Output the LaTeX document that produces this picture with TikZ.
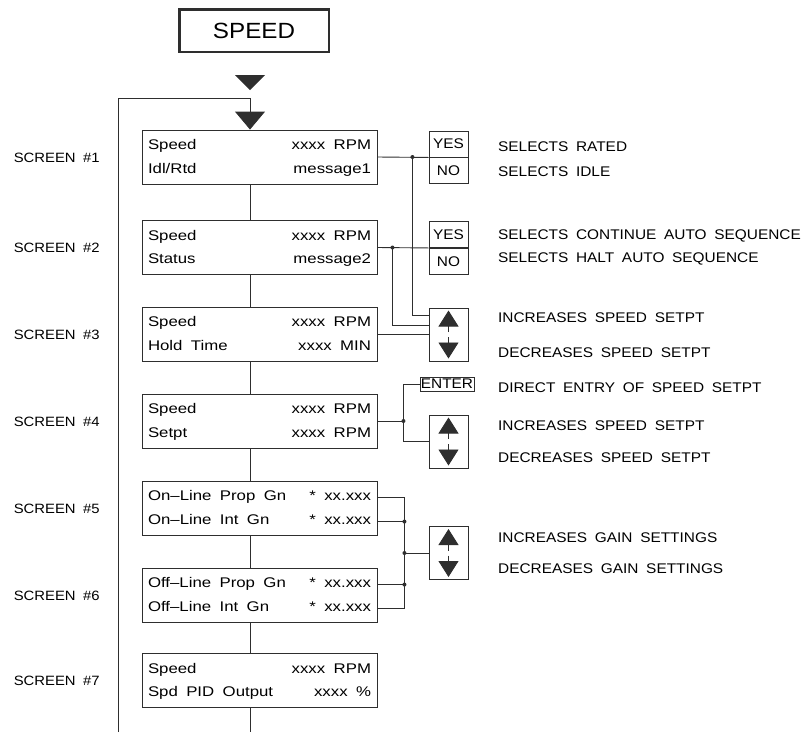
\documentclass[tikz,border=0pt]{standalone}
\usepackage{fontspec}
\setmainfont{Liberation Sans}
\newfontfamily\capsfont[FakeStretch=1.1, WordSpace=1.8]{Liberation Sans}
\newfontfamily\lcdfont[FakeStretch=1.2, WordSpace=1.8]{Liberation Sans}
\usetikzlibrary{arrows.meta, positioning, calc}
\definecolor{inkgray}{HTML}{2E2E2E}

% two rows of a display screen, label left and value right
\newcommand{\lcdrows}[4]{%
  \begin{tabular*}{223pt}{@{}l@{\extracolsep{\fill}}r@{}}#1 & #2\\#3 & #4\end{tabular*}}

\begin{document}
\begin{tikzpicture}[x=1pt, y=-1pt,
  lcdbox/.style={draw=inkgray, line width=0.9pt, minimum width=235pt, minimum height=54pt,
    inner sep=0pt, font=\lcdfont\fontsize{14}{23.5}\selectfont},
  keybox/.style={draw=inkgray, line width=0.9pt, minimum width=39pt, inner sep=0pt,
    font=\capsfont\fontsize{14}{14}\selectfont},
  notetxt/.style={anchor=base west, inner sep=0pt, font=\capsfont\fontsize{14}{14}\selectfont},
  screenlab/.style={anchor=base west, inner sep=0pt, font=\capsfont\fontsize{13.5}{13.5}\selectfont},
  link/.style={inkgray, line width=0.9pt},
  updn/.style={inkgray, line width=0.9pt, -{Triangle[length=16pt, width=20pt]}},
  bigtip/.style={-{Triangle[length=18pt, width=30pt]}}]

\useasboundingbox (0,0) rectangle (806,732);

% Title
\node[draw=inkgray, line width=2.5pt, minimum width=149.5pt, minimum height=42.5pt, inner sep=0pt,
  font=\capsfont\fontsize{22}{22}\selectfont] (title) at (254,30.5) {SPEED};
\fill[inkgray] (235,75) -- (265,75) -- (250,90) -- cycle;

% --- Screens ---
\node[lcdbox] (s1) at (259.5,157) {\lcdrows{Speed}{xxxx RPM}{Idl/Rtd}{message1}};
\node[lcdbox] (s2) at (259.5,247.5) {\lcdrows{Speed}{xxxx RPM}{Status}{message2}};
\node[lcdbox] (s3) at (259.5,334) {\lcdrows{Speed}{xxxx RPM}{Hold Time}{xxxx MIN}};
\node[lcdbox] (s4) at (259.5,421) {\lcdrows{Speed}{xxxx RPM}{Setpt}{xxxx RPM}};
\node[lcdbox] (s5) at (259.5,508) {\lcdrows{On\textendash Line Prop Gn}{* xx.xxx}{On\textendash Line Int Gn}{* xx.xxx}};
\node[lcdbox] (s6) at (259.5,595) {\lcdrows{Off\textendash Line Prop Gn}{* xx.xxx}{Off\textendash Line Int Gn}{* xx.xxx}};
\node[lcdbox] (s7) at (259.5,680.5) {\lcdrows{Speed}{xxxx RPM}{Spd PID Output}{xxxx \%}};

\node[screenlab] (lab1) at ($(s1.west)+(-128,5)$) {SCREEN \#1};
\node[screenlab] (lab2) at ($(s2.west)+(-128,5)$) {SCREEN \#2};
\node[screenlab] (lab3) at ($(s3.west)+(-128,5)$) {SCREEN \#3};
\node[screenlab] (lab4) at ($(s4.west)+(-128,5)$) {SCREEN \#4};
\node[screenlab] (lab5) at ($(s5.west)+(-128,5)$) {SCREEN \#5};
\node[screenlab] (lab6) at ($(s6.west)+(-128,5)$) {SCREEN \#6};
\node[screenlab] (lab7) at ($(s7.west)+(-128,5)$) {SCREEN \#7};

% --- Main flow and return loop ---
\coordinate (trunk) at (250,0);
\coordinate (trunkend) at (250,732);
\coordinate (loopbot) at (118,732);
\coordinate (looptop) at (250,98);
\draw[link, bigtip] (loopbot) |- (looptop) -- (s1.north -| looptop);
\draw[link] (s1.south -| trunk) -- (s2.north -| trunk)
  (s2.south -| trunk) -- (s3.north -| trunk)
  (s3.south -| trunk) -- (s4.north -| trunk)
  (s4.south -| trunk) -- (s5.north -| trunk)
  (s5.south -| trunk) -- (s6.north -| trunk)
  (s6.south -| trunk) -- (s7.north -| trunk)
  (s7.south -| trunk) -- (trunkend);

% --- Keys ---
\node[keybox, minimum height=26pt] (yes1) at (448.5,144) {YES};
\node[keybox, minimum height=26pt, below=0pt of yes1] (no1) {NO};
\node[keybox, minimum height=26pt] (yes2) at (448.5,234.5) {YES};
\node[keybox, minimum height=26pt, below=0pt of yes2] (no2) {NO};
\node[keybox, minimum height=53pt] (ud3) at (448.5,334.5) {};
\node[keybox, minimum width=54pt, minimum height=14pt] (enter) at (447,384) {ENTER};
\node[keybox, minimum height=53pt] (ud4) at (448.5,441.5) {};
\node[keybox, minimum height=53pt] (ud5) at (448.5,553) {};

% up / down arrows inside the keys
\draw[updn] ($(ud3.center)+(0,-2.5)$) -- ($(ud3.center)+(0,-24)$);
\draw[updn] ($(ud3.center)+(0,2.5)$) -- ($(ud3.center)+(0,24)$);
\draw[updn] ($(ud4.center)+(0,-2.5)$) -- ($(ud4.center)+(0,-24)$);
\draw[updn] ($(ud4.center)+(0,2.5)$) -- ($(ud4.center)+(0,24)$);
\draw[updn] ($(ud5.center)+(0,-2.5)$) -- ($(ud5.center)+(0,-24)$);
\draw[updn] ($(ud5.center)+(0,2.5)$) -- ($(ud5.center)+(0,24)$);

% --- Screen to key wiring ---
\coordinate (j1) at ($(s1.east)+(35,0)$);
\coordinate (j2) at ($(s2.east)+(15,0)$);
\draw[link] (s1.east) -- (no1.north west);
\draw[link] (j1) |- ($(ud3.north west)+(0,8)$);
\draw[link] (s2.east) -- (no2.north west);
\draw[link] (j2) |- ($(ud3.north west)+(0,18)$);
\draw[link] (s3.east) -- (s3.east -| ud3.west);
\fill[inkgray] (j1) circle (2pt) (j2) circle (2pt);

\coordinate (j4) at ($(s4.east)+(26,0)$);
\draw[link] (s4.east) -- (j4);
\draw[link] (j4) |- (enter.west);
\draw[link] (j4) |- (ud4.west);
\fill[inkgray] (j4) circle (2pt);

\coordinate (b1) at ($(s5.north east)+(27,17)$);
\coordinate (b2) at ($(s5.north east)+(27,41)$);
\coordinate (b3) at ($(s6.north east)+(27,17)$);
\coordinate (b4) at ($(s6.north east)+(27,41)$);
\coordinate (b5) at (ud5.west -| b1);
\draw[link] (b1 -| s5.east) -- (b1) -- (b4) -- (b4 -| s6.east);
\draw[link] (b2 -| s5.east) -- (b2);
\draw[link] (b3 -| s6.east) -- (b3);
\draw[link] (ud5.west) -- (b5);
\fill[inkgray] (b2) circle (2pt) (b3) circle (2pt) (b5) circle (2pt);

% --- Key descriptions ---
\node[notetxt] (n1) at (498,151) {SELECTS RATED};
\node[notetxt] (n2) at (498,176) {SELECTS IDLE};
\node[notetxt] (n3) at (498,239) {SELECTS CONTINUE AUTO SEQUENCE};
\node[notetxt] (n4) at (498,262) {SELECTS HALT AUTO SEQUENCE};
\node[notetxt] (n5) at (498,322) {INCREASES SPEED SETPT};
\node[notetxt] (n6) at (498,357) {DECREASES SPEED SETPT};
\node[notetxt] (n7) at (498,392) {DIRECT ENTRY OF SPEED SETPT};
\node[notetxt] (n8) at (498,430) {INCREASES SPEED SETPT};
\node[notetxt] (n9) at (498,462) {DECREASES SPEED SETPT};
\node[notetxt] (n10) at (498,542) {INCREASES GAIN SETTINGS};
\node[notetxt] (n11) at (498,573) {DECREASES GAIN SETTINGS};

\end{tikzpicture}
\end{document}
